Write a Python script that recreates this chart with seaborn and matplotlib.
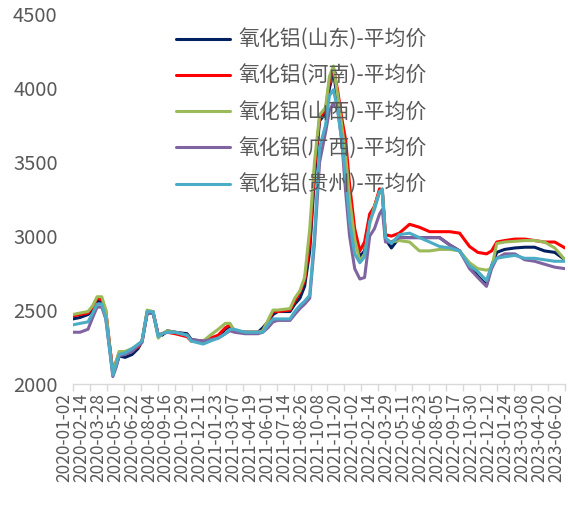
import matplotlib
matplotlib.use("Agg")
import matplotlib.pyplot as plt
import matplotlib.transforms as mtransforms
import pandas as pd
import seaborn as sns

# Observation dates
dates = [
    "2020-01-02", "2020-01-20", "2020-02-09", "2020-02-21", "2020-03-03", "2020-03-15",
    "2020-03-25", "2020-04-04", "2020-04-12", "2020-04-20", "2020-04-28", "2020-05-13",
    "2020-05-31", "2020-06-15", "2020-06-25", "2020-07-08", "2020-07-23", "2020-08-05",
    "2020-08-15", "2020-08-28", "2020-09-17", "2020-10-17", "2020-10-28", "2020-11-27",
    "2020-12-15", "2021-01-04", "2021-01-22", "2021-02-03", "2021-02-14", "2021-03-13",
    "2021-04-15", "2021-04-27", "2021-05-10", "2021-05-23", "2021-06-04", "2021-07-05",
    "2021-07-17", "2021-07-30", "2021-08-11", "2021-08-24", "2021-09-05", "2021-09-18",
    "2021-10-03", "2021-10-13", "2021-10-23", "2021-11-03", "2021-11-13", "2021-11-23",
    "2021-12-03", "2021-12-16", "2021-12-29", "2022-01-10", "2022-01-23", "2022-02-04",
    "2022-02-17", "2022-02-24", "2022-03-04", "2022-03-19", "2022-04-08", "2022-05-04",
    "2022-05-29", "2022-06-24", "2022-07-19", "2022-08-14", "2022-09-08", "2022-10-03",
    "2022-10-24", "2022-11-15", "2022-11-28", "2022-12-11", "2022-12-31", "2023-01-26",
    "2023-02-20", "2023-03-17", "2023-04-11", "2023-05-07", "2023-06-02",
]

shandong = [
    2440, 2450, 2470, 2500, 2560, 2560, 2470, 2250, 2080, 2120, 2190, 2180,
    2200, 2240, 2290, 2480, 2480, 2330, 2330, 2360, 2350, 2340, 2300, 2290,
    2300, 2320, 2370, 2390, 2360, 2350, 2350, 2380, 2420, 2470, 2490, 2490,
    2540, 2580, 2660, 2900, 3400, 3780, 3830, 4000, 4120, 3900, 3700, 3480,
    3250, 3000, 2860, 2900, 3120, 3200, 3300, 3300, 2980, 2920, 2990, 2990,
    2990, 2990, 2990, 2940, 2900, 2800, 2730, 2670, 2800, 2890, 2910, 2920,
    2925, 2925, 2900, 2890, 2840,
]
henan = [
    2460, 2470, 2480, 2520, 2580, 2570, 2500, 2260, 2080, 2150, 2210, 2210,
    2230, 2250, 2290, 2490, 2490, 2330, 2340, 2350, 2340, 2320, 2290, 2290,
    2310, 2330, 2380, 2400, 2360, 2350, 2350, 2360, 2420, 2490, 2490, 2500,
    2560, 2620, 2700, 2950, 3450, 3800, 3850, 4050, 4140, 3980, 3800, 3650,
    3350, 3050, 2900, 2960, 3150, 3200, 3320, 3310, 3010, 3000, 3020, 3080,
    3060, 3030, 3030, 3030, 3020, 2930, 2890, 2880, 2900, 2960, 2970, 2980,
    2980, 2970, 2960, 2960, 2920,
]
shanxi = [
    2470, 2480, 2490, 2530, 2590, 2590, 2500, 2250, 2070, 2150, 2220, 2220,
    2240, 2260, 2290, 2500, 2490, 2310, 2340, 2360, 2350, 2330, 2290, 2290,
    2330, 2370, 2410, 2410, 2360, 2350, 2350, 2360, 2430, 2500, 2500, 2510,
    2580, 2630, 2720, 3050, 3500, 3820, 3870, 4080, 4150, 3950, 3750, 3550,
    3250, 2980, 2830, 2880, 3080, 3200, 3300, 3300, 2980, 2960, 2970, 2960,
    2900, 2900, 2910, 2910, 2900, 2820, 2780, 2770, 2780, 2950, 2960, 2965,
    2970, 2970, 2960, 2920, 2840,
]
guangxi = [
    2350, 2350, 2370, 2450, 2520, 2520, 2440, 2230, 2050, 2110, 2190, 2200,
    2220, 2260, 2280, 2480, 2480, 2330, 2340, 2350, 2350, 2330, 2300, 2290,
    2300, 2310, 2340, 2360, 2350, 2340, 2340, 2350, 2380, 2420, 2430, 2430,
    2470, 2510, 2540, 2580, 2950, 3500, 3700, 3850, 3900, 3850, 3650, 3300,
    3000, 2780, 2710, 2720, 3000, 3050, 3150, 3180, 2960, 2960, 2990, 2990,
    2990, 2990, 2990, 2940, 2900, 2780, 2720, 2660, 2780, 2850, 2880, 2880,
    2840, 2830, 2810, 2790, 2780,
]
guizhou = [
    2400, 2410, 2420, 2480, 2540, 2540, 2450, 2230, 2060, 2130, 2200, 2210,
    2240, 2270, 2290, 2490, 2490, 2320, 2340, 2350, 2350, 2330, 2290, 2270,
    2290, 2310, 2340, 2370, 2370, 2350, 2350, 2350, 2400, 2440, 2440, 2440,
    2490, 2530, 2560, 2600, 3000, 3600, 3750, 3950, 3990, 3850, 3650, 3400,
    3100, 2880, 2820, 2860, 3100, 3180, 3300, 3320, 2990, 2950, 3010, 3020,
    2990, 2960, 2930, 2920, 2900, 2800, 2760, 2700, 2800, 2850, 2860, 2870,
    2850, 2850, 2840, 2830, 2830,
]

series_names = [
    "氧化铝(山东)-平均价",
    "氧化铝(河南)-平均价",
    "氧化铝(山西)-平均价",
    "氧化铝(广西)-平均价",
    "氧化铝(贵州)-平均价",
]
series_colors = ["#002060", "#ff0000", "#9bbb59", "#8064a2", "#4bacc6"]

tick_labels = [
    "2020-01-02", "2020-02-14", "2020-03-28", "2020-05-10", "2020-06-22",
    "2020-08-04", "2020-09-16", "2020-10-29", "2020-12-11", "2021-01-23",
    "2021-03-07", "2021-04-19", "2021-06-01", "2021-07-14", "2021-08-26",
    "2021-10-08", "2021-11-20", "2022-01-02", "2022-02-14", "2022-03-29",
    "2022-05-11", "2022-06-23", "2022-08-05", "2022-09-17", "2022-10-30",
    "2022-12-12", "2023-01-24", "2023-03-08", "2023-04-20", "2023-06-02",
]
y_ticks = [2000, 2500, 3000, 3500, 4000, 4500]

# Long-format table for seaborn
frames = []
for name, vals in zip(series_names,
                      [shandong, henan, shanxi, guangxi, guizhou]):
    frames.append(pd.DataFrame({"日期": pd.to_datetime(dates),
                                "价格": vals, "品种": name}))
df = pd.concat(frames, ignore_index=True)

sns.set_theme(style="white")
plt.rcParams["font.family"] = ["Noto Sans CJK SC", "DejaVu Sans"]

fig = plt.figure(figsize=(5.68, 5.15), dpi=100)
ax = fig.add_axes([73 / 568, 1 - 384 / 515, 492 / 568, (384 - 14.3) / 515])

sns.lineplot(data=df, x="日期", y="价格", hue="品种",
             hue_order=series_names, palette=series_colors,
             linewidth=2.2, ax=ax, legend=True)

ax.set_xlim(pd.Timestamp("2020-01-02"), pd.Timestamp("2023-06-02"))
ax.set_ylim(2000, 4500)
ax.set_xlabel("")
ax.set_ylabel("")

text_color = "#595959"
grid_color = "#d9d9d9"

ax.set_yticks(y_ticks)
ax.set_yticklabels([str(v) for v in y_ticks])
ax.tick_params(axis="y", length=0, pad=11, labelsize=14.5, labelcolor=text_color)

ax.set_xticks(pd.to_datetime(tick_labels))
ax.set_xticklabels(tick_labels, rotation=90)
ax.tick_params(axis="x", direction="out", length=5, width=1, color=grid_color,
               pad=1.5, labelsize=12.5, labelcolor=text_color, bottom=True)
shift = mtransforms.ScaledTranslation(-9 / 100, 0, fig.dpi_scale_trans)
for lbl in ax.get_xticklabels():
    lbl.set_transform(lbl.get_transform() + shift)

for side in ["top", "right", "left"]:
    ax.spines[side].set_visible(False)
ax.spines["bottom"].set_color(grid_color)
ax.spines["bottom"].set_linewidth(1)
ax.grid(False)

handles, labels = ax.get_legend_handles_labels()
leg = ax.legend(handles, labels, loc="upper left",
                bbox_to_anchor=(176 / 568, 1 - 29 / 515),
                bbox_transform=fig.transFigure, frameon=False,
                fontsize=15, handlelength=2.6, handletextpad=0.4,
                labelspacing=0.68, borderpad=0, borderaxespad=0)
for t in leg.get_texts():
    t.set_color(text_color)
for h in leg.get_lines():
    h.set_linewidth(2.2)

fig.savefig("out.png", dpi=100)
